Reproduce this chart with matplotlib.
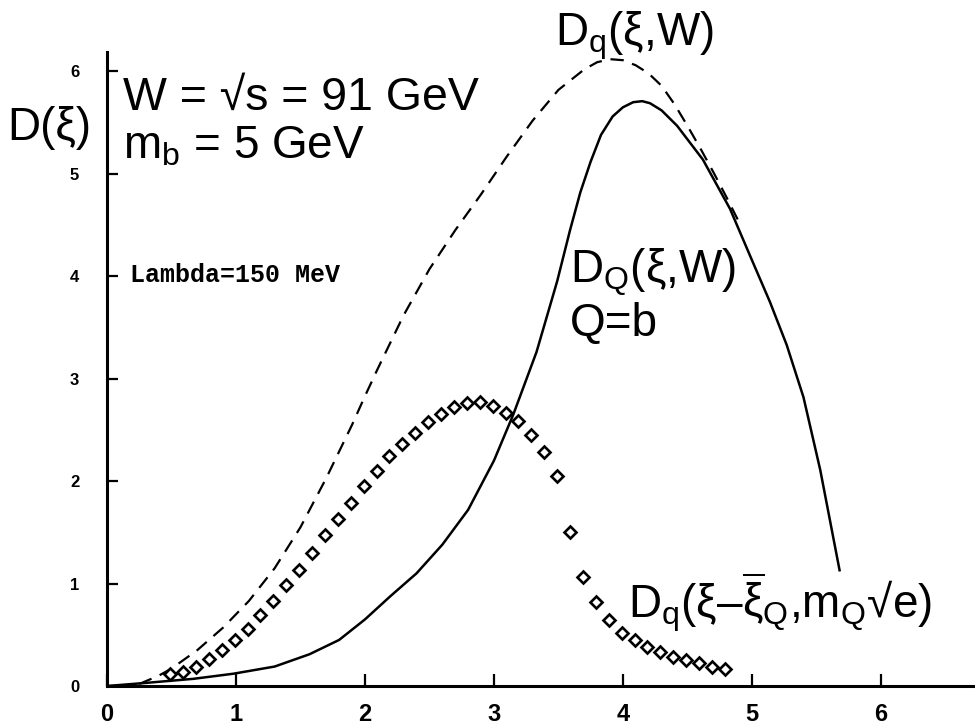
import matplotlib
matplotlib.use("Agg")
import matplotlib.pyplot as plt

plt.rcParams['font.family'] = ['Liberation Sans', 'DejaVu Sans']
plt.rcParams['mathtext.fontset'] = 'custom'
plt.rcParams['mathtext.rm'] = 'Liberation Sans'
plt.rcParams['mathtext.it'] = 'Liberation Sans'
plt.rcParams['mathtext.bf'] = 'Liberation Sans:bold'

# ---- data ----
# D_q(xi, W) : dashed
xi_dash = [0.25, 0.40, 0.50, 0.70, 0.90, 1.10, 1.30, 1.50, 1.70, 1.90, 2.00, 2.10, 2.30,
           2.50, 2.70, 2.90, 3.10, 3.30, 3.50, 3.70, 3.80, 3.90, 4.00, 4.10, 4.20, 4.30,
           4.40, 4.50, 4.60, 4.70, 4.80, 4.90]
d_dash = [0.02, 0.10, 0.17, 0.35, 0.57, 0.83, 1.15, 1.55, 2.03, 2.55, 2.83, 3.10, 3.62,
          4.07, 4.45, 4.80, 5.17, 5.52, 5.82, 6.02, 6.09, 6.12, 6.11, 6.06, 5.98, 5.86,
          5.68, 5.47, 5.25, 5.02, 4.78, 4.53]

# D_Q(xi, W), Q=b : solid
xi_solid = [0.00, 0.30, 0.67, 0.98, 1.30, 1.57, 1.80, 2.00, 2.20, 2.40, 2.60, 2.80, 3.00,
            3.15, 3.33, 3.49, 3.59, 3.67, 3.75, 3.83, 3.92, 4.00, 4.08, 4.15, 4.21, 4.30,
            4.42, 4.62, 4.83, 5.01, 5.14, 5.27, 5.40, 5.53, 5.68]
d_solid = [0.00, 0.03, 0.07, 0.12, 0.19, 0.31, 0.45, 0.65, 0.88, 1.10, 1.38, 1.72, 2.20,
           2.65, 3.26, 3.95, 4.45, 4.82, 5.12, 5.38, 5.56, 5.65, 5.70, 5.71, 5.69, 5.62,
           5.47, 5.14, 4.66, 4.13, 3.75, 3.33, 2.82, 2.11, 1.13]

# D_q(xi - xibar_Q, m_Q sqrt(e)) : open diamonds
xi_diam = [0.49, 0.59, 0.69, 0.79, 0.89, 0.99, 1.09, 1.19, 1.29, 1.39, 1.49, 1.59, 1.69,
           1.79, 1.89, 1.99, 2.09, 2.19, 2.29, 2.39, 2.49, 2.59, 2.69, 2.79, 2.89, 2.99,
           3.09, 3.19, 3.29, 3.39, 3.49, 3.59, 3.69, 3.79, 3.89, 3.99, 4.09, 4.19, 4.29,
           4.39, 4.49, 4.59, 4.69, 4.79]
d_diam = [0.12, 0.14, 0.19, 0.26, 0.35, 0.45, 0.56, 0.69, 0.83, 0.99, 1.13, 1.30, 1.47,
          1.63, 1.79, 1.95, 2.10, 2.25, 2.36, 2.47, 2.58, 2.66, 2.72, 2.76, 2.77, 2.73,
          2.67, 2.59, 2.45, 2.28, 2.05, 1.50, 1.06, 0.82, 0.64, 0.52, 0.45, 0.38, 0.33,
          0.28, 0.25, 0.22, 0.19, 0.17]

x_ticks = [0, 1, 2, 3, 4, 5, 6]
y_ticks = [0, 1, 2, 3, 4, 5, 6]

W, H = 975, 728
fig = plt.figure(figsize=(9.75, 7.28), dpi=100)
ax = fig.add_axes([107 / W, 1 - 686 / H, (W - 107) / W, (686 - 52) / H])

ax.plot(xi_dash, d_dash, color='black', lw=1.6, linestyle=(0, (6, 4)))
ax.plot(xi_solid, d_solid, color='black', lw=1.8)
ax.plot(xi_diam, d_diam, linestyle='none', marker='D', markersize=6.5,
        markerfacecolor='white', markeredgecolor='black', markeredgewidth=1.9)

ax.set_xlim(0, 6.73)
ax.set_ylim(0, 6.19)
ax.set_xticks(x_ticks)
ax.set_yticks(y_ticks)
ax.set_xticklabels([str(v) for v in x_ticks], fontsize=17, fontweight='bold',
                   family=['Liberation Sans Narrow', 'Liberation Sans', 'DejaVu Sans'])
ax.set_yticklabels([str(v) for v in y_ticks], fontsize=12, fontweight='bold')
ax.tick_params(axis='x', direction='in', length=9, width=1.6, pad=12)
ax.tick_params(axis='y', direction='in', length=8, width=1.6, pad=20)
for s in ['top', 'right']:
    ax.spines[s].set_visible(False)
for s in ['left', 'bottom']:
    ax.spines[s].set_linewidth(2.2)
ax.patch.set_alpha(0)

def px(x, y):
    return x / W, 1 - y / H

fs = 33
fig.text(*px(7, 140), 'D(ξ)', fontsize=fs, va='baseline', ha='left')
fig.text(*px(123, 110), 'W = √s = 91 GeV', fontsize=fs + 0.5, va='baseline', ha='left')
fig.text(*px(123, 158), r'$\mathrm{m_b}$ = 5 GeV', fontsize=fs, va='baseline', ha='left')
fig.text(*px(555, 45), r'$\mathrm{D_q(\xi{,}W)}$', fontsize=fs, va='baseline', ha='left')
fig.text(*px(570, 283), r'$\mathrm{D_Q(\xi{,}W)}$', fontsize=fs, va='baseline', ha='left')
fig.text(*px(570, 336), 'Q=b', fontsize=fs, va='baseline', ha='left')
fig.text(*px(628, 618), r'$\mathrm{D_q(\xi–\overline{\xi}_Q{,}m_Q√e)}$', fontsize=fs,
         va='baseline', ha='left')
fig.text(*px(130, 275), 'Lambda=150 MeV', fontsize=18, va='center', ha='left',
         fontweight='bold', family=['Liberation Mono', 'DejaVu Sans Mono'])

fig.savefig('out.png', dpi=100)
